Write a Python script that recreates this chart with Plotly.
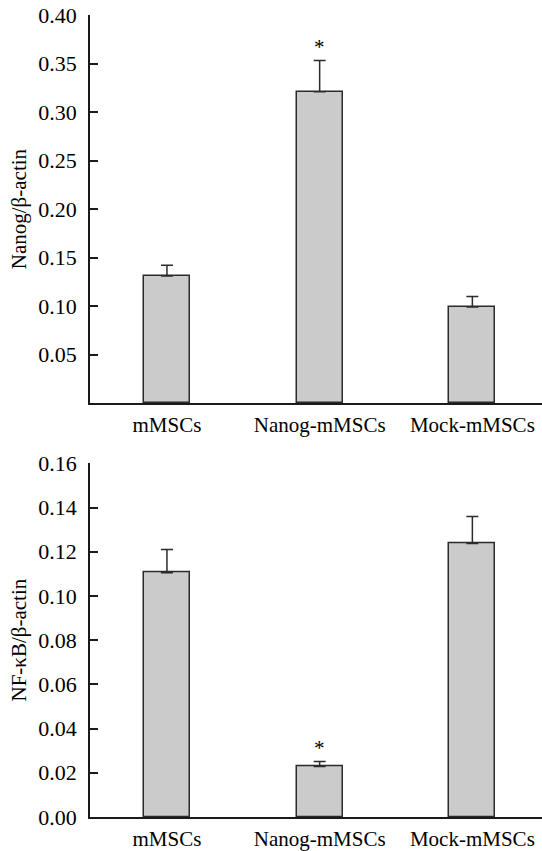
import plotly.graph_objects as go
from plotly.subplots import make_subplots

categories = ["mMSCs", "Nanog-mMSCs", "Mock-mMSCs"]
nanog_values = [0.131, 0.321, 0.099]
nanog_errors = [0.011, 0.032, 0.011]
nfkb_values = [0.1105, 0.0228, 0.1237]
nfkb_errors = [0.0105, 0.0023, 0.0122]
nanog_ticks = [0.05, 0.10, 0.15, 0.20, 0.25, 0.30, 0.35, 0.40]
nfkb_ticks = [0.00, 0.02, 0.04, 0.06, 0.08, 0.10, 0.12, 0.14, 0.16]
sig_index = 1

FONT = "Liberation Serif"
fig = make_subplots(rows=2, cols=1, vertical_spacing=0.075)

for row, vals, errs in [(1, nanog_values, nanog_errors), (2, nfkb_values, nfkb_errors)]:
    fig.add_trace(go.Bar(
        x=categories, y=vals, width=0.30,
        marker=dict(color="#cbcbcb", line=dict(color="#2b2b2b", width=1.5)),
        error_y=dict(type="data", array=errs, arrayminus=[0] * len(errs), symmetric=False,
                     color="#2b2b2b", thickness=1.5, width=6),
        showlegend=False,
    ), row=row, col=1)
    yv = vals[sig_index] + errs[sig_index]
    fig.add_annotation(x=categories[sig_index], y=yv, text="*", showarrow=False,
                       yanchor="bottom", xref="x" if row == 1 else "x2",
                       yref="y" if row == 1 else "y2",
                       font=dict(family=FONT, size=21, color="black"))

axis_common = dict(showline=True, linecolor="#1a1a1a", linewidth=1.5, showgrid=False,
                   zeroline=False, automargin=False, ticklabeloverflow="allow")
fig.update_xaxes(**axis_common, ticks="", range=[-0.504, 2.456], ticklabelstandoff=2,
                 tickfont=dict(family=FONT, size=21, color="black"))
fig.update_yaxes(**axis_common, ticks="inside", ticklen=8, tickwidth=1.5, tickcolor="#1a1a1a",
                 ticklabelstandoff=7, tickfont=dict(family=FONT, size=22, color="black"))

fig.update_yaxes(range=[0, 0.40], tickvals=nanog_ticks, tickformat=".2f",
                 title=dict(text="Nanog/β-actin", font=dict(family=FONT, size=21, color="black"), standoff=6),
                 domain=[0.516, 1.0], row=1, col=1)
fig.update_yaxes(range=[0, 0.16], tickvals=nfkb_ticks, tickformat=".2f",
                 title=dict(text="NF-κB/β-actin", font=dict(family=FONT, size=21, color="black"), standoff=6),
                 domain=[0.0, 0.441], row=2, col=1)

fig.update_layout(width=542, height=851, margin=dict(l=90, r=0, t=15, b=34),
                  plot_bgcolor="white", paper_bgcolor="white", bargap=0)

fig.write_html("out.html", config={"displayModeBar": False},
               post_script="document.body.style.margin='0';document.body.style.overflow='hidden';")
